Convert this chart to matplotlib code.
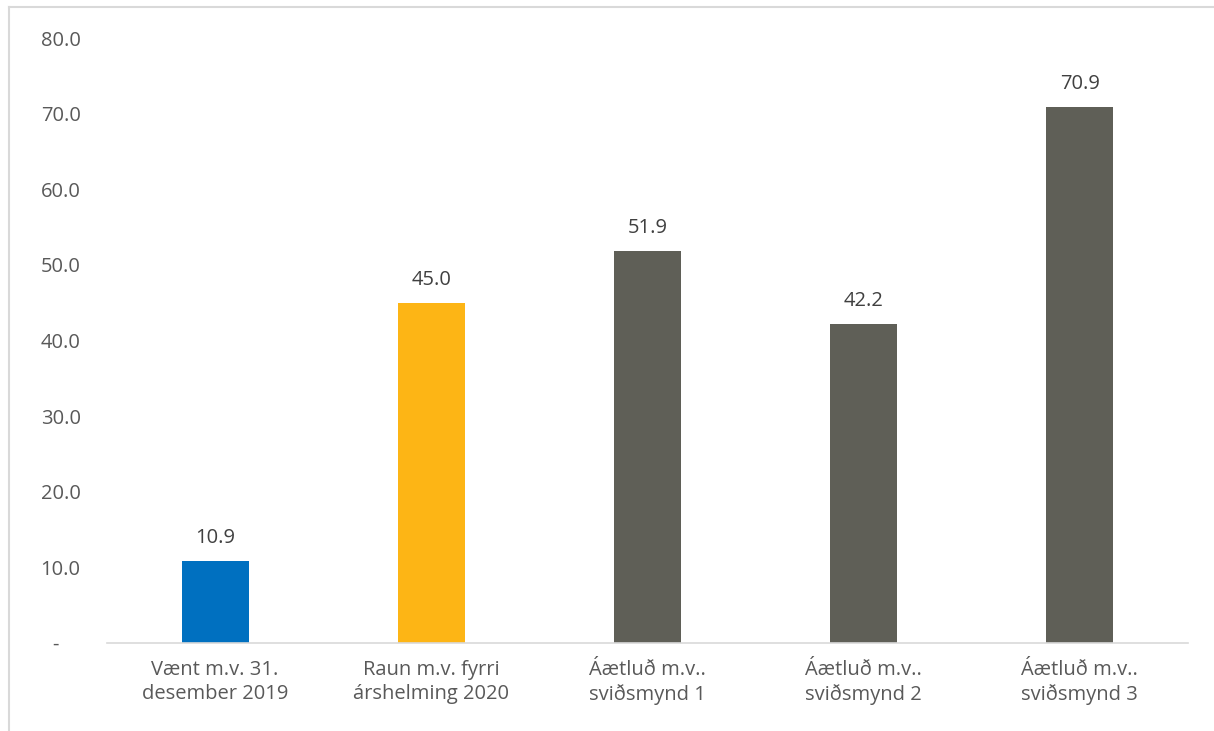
import matplotlib
matplotlib.use('Agg')
import matplotlib.pyplot as plt
from matplotlib.lines import Line2D

plt.rcParams['font.family'] = ['Open Sans', 'DejaVu Sans']

categories = ["Vænt m.v. 31.\ndesember 2019",
              "Raun m.v. fyrri\nárshelming 2020",
              "Áætluð m.v..\nsviðsmynd 1",
              "Áætluð m.v..\nsviðsmynd 2",
              "Áætluð m.v..\nsviðsmynd 3"]
values = [10.9, 45.0, 51.9, 42.2, 70.9]
bar_colors = ["#0070C0", "#FDB515", "#5F5F57", "#5F5F57", "#5F5F57"]
y_ticks = [0, 10, 20, 30, 40, 50, 60, 70, 80]
y_tick_labels = ["-    "] + [f"{t:.1f}" for t in y_ticks[1:]]

text_color = "#595959"
fs = 14.5

fig = plt.figure(figsize=(12.14, 7.31), dpi=100)
ax = fig.add_axes([0.0881, 0.1204, 0.8905, 0.8276])

x = range(len(values))
ax.bar(x, values, width=0.31, color=bar_colors)

# 数据标签
for xi, v in zip(x, values):
    ax.annotate(f"{v:.1f}", (xi, v), xytext=(0, 9), textcoords="offset points",
                ha="center", va="bottom", fontsize=fs, color="#404040")

ax.set_xlim(-0.5, len(values) - 0.5)
ax.set_ylim(0, 80)
ax.set_yticks(y_ticks)
ax.set_yticklabels(y_tick_labels)
ax.set_xticks(list(x))
ax.set_xticklabels(categories, linespacing=1.3)

for s in ["top", "right", "left"]:
    ax.spines[s].set_visible(False)
ax.spines["bottom"].set_color("#D9D9D9")
ax.spines["bottom"].set_linewidth(1.2)

ax.tick_params(axis="y", length=0, pad=19, labelsize=fs, labelcolor=text_color)
ax.tick_params(axis="x", length=0, pad=12, labelsize=fs, labelcolor=text_color)

# 外框（左、上）
fig.add_artist(Line2D([9 / 1214, 9 / 1214], [0, 1 - 7 / 731], color="#D9D9D9", lw=1.5))
fig.add_artist(Line2D([9 / 1214, 1], [1 - 7 / 731, 1 - 7 / 731], color="#D9D9D9", lw=1.5))

fig.savefig("out.png", dpi=100)
plt.close(fig)
